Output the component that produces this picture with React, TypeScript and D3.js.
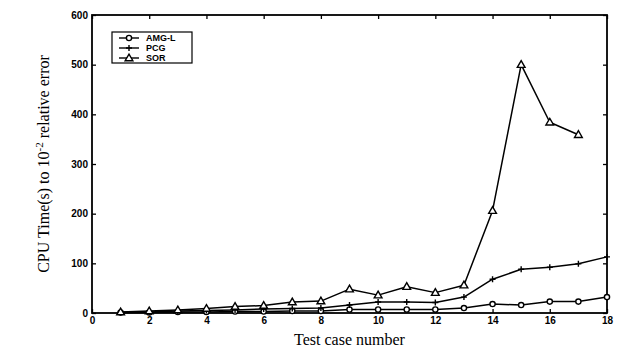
import React, { useEffect, useRef } from 'react'
import * as d3 from 'd3'

// test case numbers
const cases = [1, 2, 3, 4, 5, 6, 7, 8, 9, 10, 11, 12, 13, 14, 15, 16, 17, 18]
const sorCases = [1, 2, 3, 4, 5, 6, 7, 8, 9, 10, 11, 12, 13, 14, 15, 16, 17]

// CPU time values
const amgValues = [1, 1, 2, 2, 3, 3, 4, 4, 7, 7, 7, 7, 10, 18, 16, 23, 23, 32]
const pcgValues = [1, 2, 4, 5, 6, 8, 9, 10, 16, 22, 22, 21, 32, 68, 88, 92, 99, 113]
const sorValues = [2, 4, 6, 9, 13, 15, 22, 24, 48, 36, 53, 41, 56, 206, 500, 384, 359]

const xTicks = [0, 2, 4, 6, 8, 10, 12, 14, 16, 18]
const yTicks = [0, 100, 200, 300, 400, 500, 600]
const seriesNames = ['AMG-L', 'PCG', 'SOR']

const App = () => {
  const ref = useRef<SVGSVGElement>(null)

  useEffect(() => {
    const svg = d3.select(ref.current)
    svg.selectAll('*').remove()

    const margin = { top: 15, right: 10, bottom: 41, left: 92 }
    const width = 617 - margin.left - margin.right
    const height = 354 - margin.top - margin.bottom

    const g = svg.append('g').attr('transform', `translate(${margin.left},${margin.top})`)

    const x = d3.scaleLinear().domain([0, 18]).range([0, width])
    const y = d3.scaleLinear().domain([0, 600]).range([height, 0])

    // frame
    g.append('rect')
      .attr('width', width).attr('height', height)
      .attr('fill', 'none').attr('stroke', '#000').attr('stroke-width', 1.8)

    const tickFont = 'Liberation Sans, Arial, sans-serif'

    const bottom = g.append('g').attr('transform', `translate(0,${height})`)
      .call(d3.axisBottom(x).tickValues(xTicks).tickSize(-4).tickPadding(4).tickFormat(d3.format('d')))
    const left = g.append('g')
      .call(d3.axisLeft(y).tickValues(yTicks).tickSize(-4).tickPadding(4))
    g.append('g')
      .call(d3.axisTop(x).tickValues(xTicks).tickSize(-4).tickFormat(() => ''))
    g.append('g').attr('transform', `translate(${width},0)`)
      .call(d3.axisRight(y).tickValues(yTicks).tickSize(-4).tickFormat(() => ''))

    svg.selectAll('.domain').remove()
    svg.selectAll('.tick line').attr('stroke', '#000').attr('stroke-width', 1.3)
    ;[bottom, left].forEach(a => a.selectAll('text')
      .attr('font-family', tickFont).attr('font-weight', 'bold')
      .attr('font-size', 10).attr('fill', '#000'))

    const line = d3.line<[number, number]>()
      .x(d => x(d[0])).y(d => y(d[1]))

    const amg = cases.map((c, i) => [c, amgValues[i]] as [number, number])
    const pcg = cases.map((c, i) => [c, pcgValues[i]] as [number, number])
    const sor = sorCases.map((c, i) => [c, sorValues[i]] as [number, number])

    const drawLine = (data: [number, number][]) =>
      g.append('path').datum(data)
        .attr('fill', 'none').attr('stroke', '#000')
        .attr('stroke-width', 1.5).attr('stroke-linejoin', 'round')
        .attr('d', line)

    drawLine(amg); drawLine(pcg); drawLine(sor)

    const circle = (sel: any, cx: number, cy: number) =>
      sel.append('circle').attr('cx', cx).attr('cy', cy).attr('r', 2.6)
        .attr('fill', '#fff').attr('stroke', '#000').attr('stroke-width', 1.4)
    const plus = (sel: any, cx: number, cy: number) =>
      sel.append('path').attr('d', `M${cx - 3},${cy}H${cx + 3}M${cx},${cy - 3}V${cy + 3}`)
        .attr('stroke', '#000').attr('stroke-width', 1.4)
    const tri = (sel: any, cx: number, cy: number) =>
      sel.append('path').attr('d', d3.symbol(d3.symbolTriangle, 26)())
        .attr('transform', `translate(${cx},${cy + 0.5})`)
        .attr('fill', '#fff').attr('stroke', '#000').attr('stroke-width', 1.4)

    amg.forEach(d => circle(g, x(d[0]), y(d[1])))
    pcg.forEach(d => plus(g, x(d[0]), y(d[1])))
    sor.forEach(d => tri(g, x(d[0]), y(d[1])))

    // legend
    const lg = g.append('g').attr('transform', 'translate(20,17)')
    lg.append('rect').attr('width', 80).attr('height', 31)
      .attr('fill', '#fff').attr('stroke', '#000').attr('stroke-width', 1.2)
    const markers = [circle, plus, tri]
    seriesNames.forEach((name, i) => {
      const yy = 6 + i * 10
      lg.append('line').attr('x1', 7).attr('x2', 27).attr('y1', yy).attr('y2', yy)
        .attr('stroke', '#000').attr('stroke-width', 1.4)
      markers[i](lg, 17, yy)
      lg.append('text').attr('x', 34).attr('y', yy).attr('dy', '0.35em')
        .attr('font-family', tickFont).attr('font-weight', 'bold').attr('font-size', 9)
        .text(name)
    })

    // axis titles
    svg.append('text')
      .attr('x', margin.left + width / 2).attr('y', 345)
      .attr('text-anchor', 'middle')
      .attr('font-family', 'Liberation Serif, Times New Roman, serif').attr('font-size', 16)
      .text('Test case number')

    const yl = svg.append('text')
      .attr('transform', `translate(49,${margin.top + height / 2}) rotate(-90)`)
      .attr('text-anchor', 'middle')
      .attr('font-family', 'Liberation Serif, Times New Roman, serif').attr('font-size', 16)
    yl.append('tspan').text('CPU Time(s) to 10')
    yl.append('tspan').attr('dy', -6).attr('font-size', 11).text('-2')
    yl.append('tspan').attr('dy', 6).text(' relative error')
  }, [])

  return <svg ref={ref} width={617} height={354} style={{ display: 'block', position: 'absolute', left: 0, top: 0, background: '#fff' }} />
}

export default App
